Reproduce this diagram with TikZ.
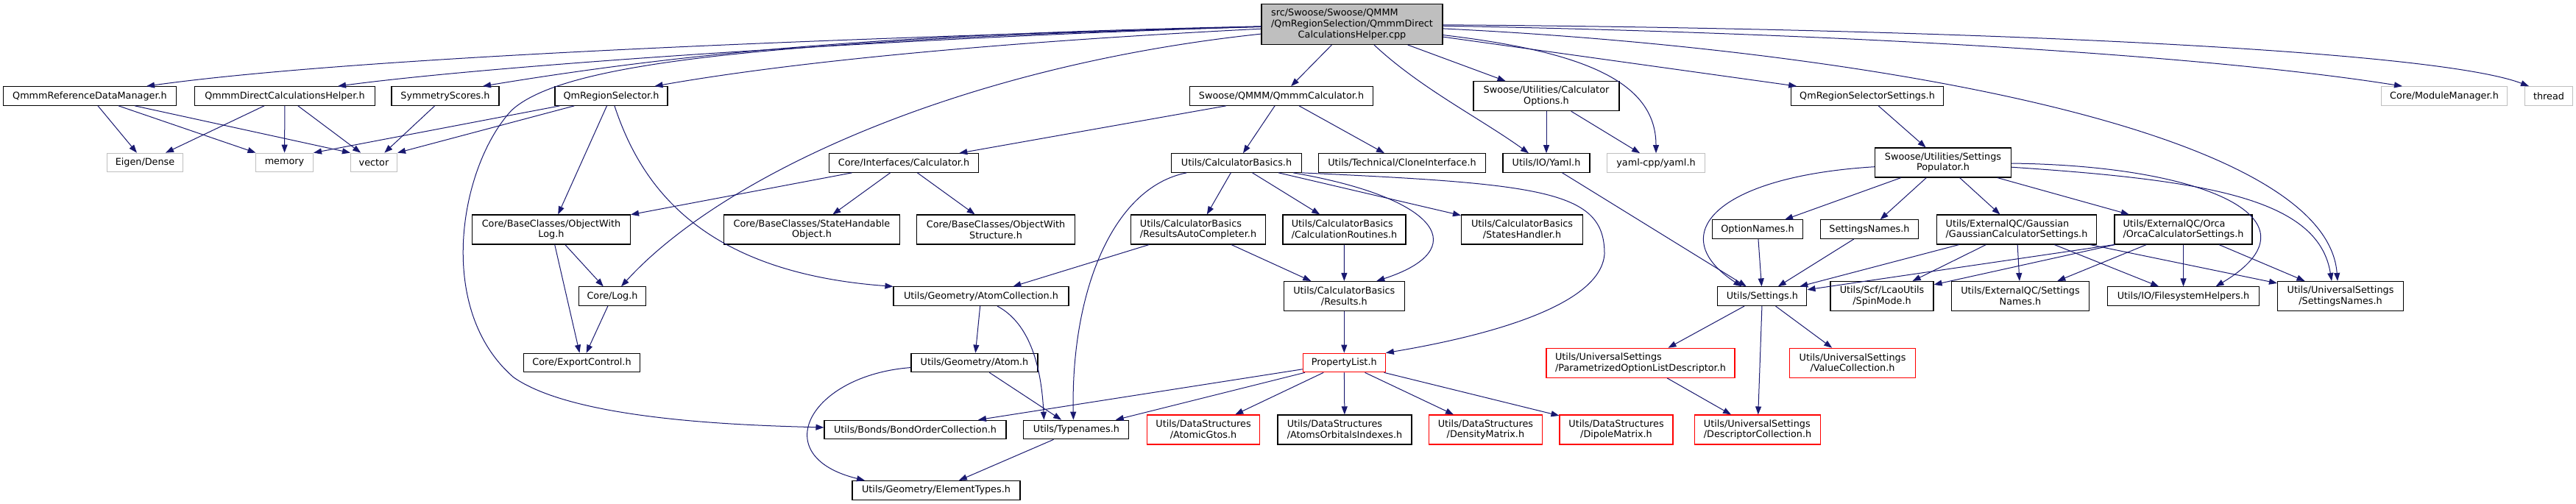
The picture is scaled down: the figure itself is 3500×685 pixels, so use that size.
\documentclass[tikz,border=0pt]{standalone}
\usepackage{fontspec}
\setmainfont{DejaVu Sans}
\usetikzlibrary{arrows.meta}
\definecolor{edgeblue}{HTML}{191970}
\definecolor{extgray}{HTML}{BFBFBF}
\newcommand{\dxfont}{\fontsize{12.8}{14.7}\selectfont}

\begin{document}
\begin{tikzpicture}[x=1pt, y=-1pt,
    hdr/.style={draw=black, line width=1.1pt, fill=white, font=\dxfont,
      inner xsep=2pt, inner ysep=0pt, minimum height=25.6pt},
    two/.style={hdr, minimum height=40pt, align=center},
    twol/.style={hdr, minimum height=40pt, align=left},
    ext/.style={hdr, draw=extgray},
    trunc/.style={draw=red},
    dep/.style={draw=edgeblue, line width=1pt, -{Triangle[length=11pt,width=8pt]}}]
  \path[use as bounding box, fill=white] (0,0) rectangle (3500,685);

  % the source file
  \node[hdr, fill=extgray, minimum height=55pt, minimum width=246pt, align=left] (main) at (1837,33)
    {src/Swoose/Swoose/QMMM\\/QmRegionSelection/QmmmDirect\\\hfil CalculationsHelper.cpp};

  \node[hdr, minimum width=235pt] (refdm) at (122,130.5) {QmmmReferenceDataManager.h};
  \node[hdr, minimum width=245pt] (helper) at (387,130.5) {QmmmDirectCalculationsHelper.h};
  \node[hdr, minimum width=146pt] (symm) at (605,130.5) {SymmetryScores.h};
  \node[hdr, minimum width=153pt] (regsel) at (830.5,130.5) {QmRegionSelector.h};
  \node[hdr, minimum width=249pt] (qmmmcalc) at (1741,130.5) {Swoose/QMMM/QmmmCalculator.h};
  \node[two, minimum width=198pt] (calcopt) at (2101,130.7) {Swoose/Utilities/Calculator\\Options.h};
  \node[hdr, minimum width=207pt] (regset) at (2537,130.5) {QmRegionSelectorSettings.h};
  \node[ext, minimum width=171pt] (modmgr) at (3321,130.5) {Core/ModuleManager.h};
  \node[ext, minimum width=65pt] (thread) at (3463,130.5) {thread};

  \node[ext, minimum width=103pt] (eigen) at (197,221) {Eigen/Dense};
  \node[ext, minimum width=78pt] (memory) at (386.5,221) {memory};
  \node[ext, minimum width=63pt] (vector) at (508,221) {vector};
  \node[hdr, minimum width=203pt] (calc) at (1228,221.5) {Core/Interfaces/Calculator.h};
  \node[hdr, minimum width=177pt] (basics) at (1680,221.5) {Utils/CalculatorBasics.h};
  \node[hdr, minimum width=227pt] (clone) at (1905,221.5) {Utils/Technical/CloneInterface.h};
  \node[hdr, minimum width=118pt] (yaml) at (2101,221.5) {Utils/IO/Yaml.h};
  \node[ext, minimum width=133pt] (yamlcpp) at (2250,221.5) {yaml-cpp/yaml.h};
  \node[two, minimum width=185pt] (populator) at (2640,221) {Swoose/Utilities/Settings\\Populator.h};

  \node[two, minimum width=215pt] (objlog) at (749,312) {Core/BaseClasses/ObjectWith\\Log.h};
  \node[two, minimum width=239pt] (statehdl) at (1103,312) {Core/BaseClasses/StateHandable\\Object.h};
  \node[two, minimum width=215pt] (objstruct) at (1353,312) {Core/BaseClasses/ObjectWith\\Structure.h};
  \node[twol, minimum width=183pt] (autocomp) at (1628,312) {Utils/CalculatorBasics\\/ResultsAutoCompleter.h};
  \node[twol, minimum width=167pt] (routines) at (1826.5,312) {Utils/CalculatorBasics\\/CalculationRoutines.h};
  \node[two, minimum width=165pt] (states) at (2068,312) {Utils/CalculatorBasics\\/StatesHandler.h};
  \node[hdr, minimum width=123pt] (optnames) at (2388,311.7) {OptionNames.h};
  \node[hdr, minimum width=133pt] (setnames) at (2540,311.7) {SettingsNames.h};
  \node[twol, minimum width=217pt] (gaussian) at (2740,312) {Utils/ExternalQC/Gaussian\\/GaussianCalculatorSettings.h};
  \node[twol, minimum width=187pt] (orca) at (2966.5,312) {Utils/ExternalQC/Orca\\/OrcaCalculatorSettings.h};

  \node[hdr, minimum width=91pt] (log) at (832,402.7) {Core/Log.h};
  \node[hdr, minimum width=238pt] (atomcoll) at (1333,402.7) {Utils/Geometry/AtomCollection.h};
  \node[two, minimum width=164pt] (results) at (1826.3,402.5) {Utils/CalculatorBasics\\/Results.h};
  \node[hdr, minimum width=121pt] (settings) at (2394.4,402.7) {Utils/Settings.h};
  \node[two, minimum width=140pt] (spin) at (2557,402.5) {Utils/Scf/LcaoUtils\\/SpinMode.h};
  \node[two, minimum width=187pt] (qcnames) at (2745,402.5) {Utils/ExternalQC/Settings\\Names.h};
  \node[hdr, minimum width=206pt] (fshelp) at (2966.5,402.7) {Utils/IO/FilesystemHelpers.h};
  \node[two, minimum width=171pt] (usnames) at (3180,402.5) {Utils/UniversalSettings\\/SettingsNames.h};

  \node[hdr, minimum width=158pt] (export) at (790.5,493) {Core/ExportControl.h};
  \node[hdr, minimum width=172pt] (atom) at (1324,493) {Utils/Geometry/Atom.h};
  \node[hdr, trunc, minimum width=112pt] (proplist) at (1826.3,493) {PropertyList.h};
  \node[twol, trunc, minimum width=256pt] (optdesc) at (2229,493.3) {Utils/UniversalSettings\\/ParametrizedOptionListDescriptor.h};
  \node[two, trunc, minimum width=171pt] (valcoll) at (2517,493.3) {Utils/UniversalSettings\\/ValueCollection.h};

  \node[hdr, minimum width=247pt] (bonds) at (1243.5,584) {Utils/Bonds/BondOrderCollection.h};
  \node[hdr, minimum width=143pt] (typenames) at (1462.4,584) {Utils/Typenames.h};
  \node[two, trunc, minimum width=153.5pt] (gtos) at (1635,584) {Utils/DataStructures\\/AtomicGtos.h};
  \node[twol, minimum width=182pt] (orbidx) at (1827,584) {Utils/DataStructures\\/AtomsOrbitalsIndexes.h};
  \node[two, trunc, minimum width=153.5pt] (density) at (2018.4,584) {Utils/DataStructures\\/DensityMatrix.h};
  \node[two, trunc, minimum width=154pt] (dipole) at (2196,584) {Utils/DataStructures\\/DipoleMatrix.h};
  \node[twol, trunc, minimum width=170.5pt] (desccoll) at (2388,584) {Utils/UniversalSettings\\/DescriptorCollection.h};

  \node[hdr, minimum width=228pt] (elements) at (1272,666.3) {Utils/Geometry/ElementTypes.h};

  % includes of the source file
  \draw[dep] (main) .. controls (1200,50) and (500,75) .. ([xshift=77pt]refdm.north);
  \draw[dep] (main) .. controls (1300,48) and (700,85) .. ([xshift=72pt]helper.north);
  \draw[dep] (main) .. controls (1300,45) and (1000,60) .. ([xshift=51pt]symm.north);
  \draw[dep] (main) .. controls (1400,55) and (1100,80) .. ([xshift=59pt]regsel.north);
  \draw[dep] (main) -- (qmmmcalc);
  \draw[dep] (main) .. controls (1930,120) and (2010,160) .. ([xshift=-24pt]yaml.north);
  \draw[dep] (main) -- (calcopt);
  \draw[dep] (main) .. controls (2150,70) and (2250,110) .. (yamlcpp);
  \draw[dep] (main) -- (regset);
  \draw[dep] (main) .. controls (2500,45) and (3000,75) .. ([xshift=-57pt]modmgr.north);
  \draw[dep] (main) .. controls (2600,38) and (3300,65) .. ([xshift=-27pt]thread.north);
  \draw[dep] (main) .. controls (2500,65) and (3160,170) .. ([xshift=-4pt]usnames.north);
  \draw[dep] (main) .. controls (1300,90) and (980,240) .. ([xshift=12pt]log.north);
  \draw[dep] (main) .. controls (1000,55) and (760,90) .. (695,150)
    .. controls (625,225) and (590,420) .. (698,513)
    .. controls (780,570) and (1000,578) .. (bonds);

  \draw[dep] (refdm) -- (eigen);
  \draw[dep] (refdm) -- (memory);
  \draw[dep] (refdm) -- (vector.north west);
  \draw[dep] (helper) -- (eigen);
  \draw[dep] (helper) -- (memory);
  \draw[dep] (helper) -- (vector);
  \draw[dep] (symm) -- (vector);
  \draw[dep] (regsel) -- (memory.north east);
  \draw[dep] (regsel) -- (vector.north east);
  \draw[dep] (regsel) -- (objlog);
  \draw[dep] (regsel) .. controls (870,250) and (950,370) .. (atomcoll.north west);

  \draw[dep] (qmmmcalc) -- (calc);
  \draw[dep] (qmmmcalc) -- (basics);
  \draw[dep] (qmmmcalc) -- (clone);
  \draw[dep] (calcopt) -- (yaml);
  \draw[dep] (calcopt) -- (yamlcpp);
  \draw[dep] (regset) -- (populator);

  \draw[dep] (calc) -- (objlog);
  \draw[dep] (calc) -- (statehdl);
  \draw[dep] (calc) -- (objstruct);
  \draw[dep] (objlog) -- (log);
  \draw[dep] (objlog) -- (export);
  \draw[dep] (log) -- (export);

  \draw[dep] (basics) -- (autocomp);
  \draw[dep] (basics) -- (routines);
  \draw[dep] (basics) -- (states);
  \draw[dep] (basics) .. controls (1960,270) and (2000,340) .. ([xshift=44pt]results.north);
  \draw[dep] (basics.south east) .. controls (2100,250) and (2180,260) .. (2180,345)
    .. controls (2175,420) and (2000,460) .. (proplist.north east);
  \draw[dep] (basics) .. controls (1510,255) and (1455,400) .. ([xshift=-4pt]typenames.north);
  \draw[dep] (autocomp) -- (atomcoll);
  \draw[dep] (autocomp) -- (results);
  \draw[dep] (routines) -- (results);
  \draw[dep] (results) -- (proplist);

  \draw[dep] (proplist) -- (bonds);
  \draw[dep] (proplist) -- (typenames);
  \draw[dep] (proplist) -- (gtos);
  \draw[dep] (proplist) -- (orbidx);
  \draw[dep] (proplist) -- (density);
  \draw[dep] (proplist) -- (dipole);

  \draw[dep] (atomcoll) -- (atom);
  \draw[dep] ([xshift=22pt]atomcoll.south) .. controls (1400,440) and (1415,500) .. ([xshift=-44pt]typenames.north);
  \draw[dep] (atom) -- (typenames);
  \draw[dep] (atom) .. controls (1100,510) and (1040,620) .. ([xshift=-97pt]elements.north);
  \draw[dep] (typenames) -- (elements);

  % settings side
  \draw[dep] (yaml) -- (settings);
  \draw[dep] (populator) .. controls (2330,240) and (2260,320) .. ([xshift=-28pt]settings.north);
  \draw[dep] (populator) -- (optnames);
  \draw[dep] (populator) -- (setnames);
  \draw[dep] (populator) -- (gaussian);
  \draw[dep] (populator) -- (orca);
  \draw[dep] (populator) .. controls (3000,225) and (3160,300) .. ([xshift=44pt]fshelp.north);
  \draw[dep] (populator) .. controls (3000,245) and (3150,270) .. ([xshift=-12pt]usnames.north);

  \draw[dep] (gaussian) -- (settings);
  \draw[dep] (gaussian) -- (spin);
  \draw[dep] (gaussian) -- (qcnames);
  \draw[dep] (gaussian) -- (fshelp);
  \draw[dep] (gaussian) -- (usnames);
  \draw[dep] (orca.south west) -- (settings);
  \draw[dep] (orca) -- (spin);
  \draw[dep] (orca) -- (qcnames);
  \draw[dep] (orca) -- (fshelp);
  \draw[dep] (orca) -- (usnames);
  \draw[dep] (optnames) -- (settings);
  \draw[dep] (setnames) -- (settings);

  \draw[dep] (settings) -- (optdesc);
  \draw[dep] (settings) -- (desccoll);
  \draw[dep] (settings) -- (valcoll);
  \draw[dep] (optdesc) -- (desccoll);
\end{tikzpicture}
\end{document}
